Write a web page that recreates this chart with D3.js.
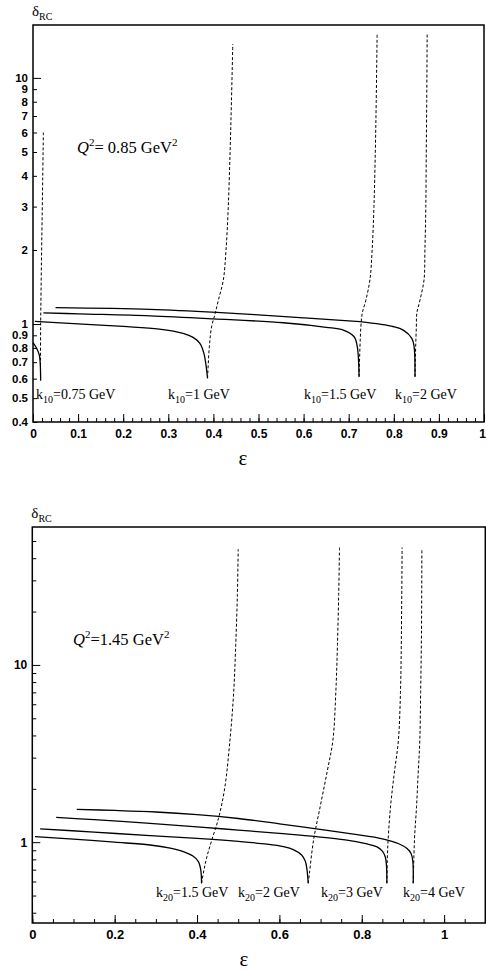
<!DOCTYPE html>
<html>
<head>
<meta charset="utf-8">
<script src="https://cdn.jsdelivr.net/npm/d3@7"></script>
<style>
  body { margin: 0; background: #fff; }
  svg { display: block; }
</style>
</head>
<body>
<script>
var width = 486;
var height = 972;

// ---- top panel (Q2 = 0.85) : [epsilon, delta]
var top075Solid = [[0, 0.84], [0.008, 0.797], [0.014, 0.748], [0.016, 0.693], [0.017, 0.59]];
var top075Dash  = [[0.0166, 0.59], [0.017, 1.0], [0.0215, 3.85], [0.023, 6.0]];
var top1Solid   = [[0.004, 1.026], [0.1, 1.002], [0.2, 0.978], [0.28, 0.954], [0.333, 0.917], [0.355, 0.883], [0.37, 0.835], [0.379, 0.76], [0.387, 0.602]];
var top1Dash    = [[0.387, 0.602], [0.391, 0.809], [0.396, 0.975], [0.404, 1.105], [0.411, 1.25], [0.422, 1.51], [0.428, 2.0], [0.433, 3.0], [0.437, 5.0], [0.44, 8.0], [0.443, 13.7]];
var top15Solid  = [[0.023, 1.111], [0.1, 1.1], [0.259, 1.08], [0.4, 1.05], [0.555, 1.012], [0.65, 0.97], [0.688, 0.945], [0.712, 0.888], [0.719, 0.809], [0.723, 0.611]];
var top15Dash   = [[0.723, 0.611], [0.725, 0.809], [0.727, 0.975], [0.73, 1.105], [0.738, 1.25], [0.747, 1.51], [0.752, 2.0], [0.756, 3.0], [0.759, 5.0], [0.761, 8.0], [0.763, 15.0]];
var top2Solid   = [[0.05, 1.165], [0.259, 1.147], [0.407, 1.115], [0.6, 1.06], [0.7, 1.031], [0.725, 1.022], [0.8, 0.975], [0.821, 0.945], [0.84, 0.875], [0.845, 0.809], [0.847, 0.611]];
var top2Dash    = [[0.847, 0.611], [0.8485, 0.809], [0.85, 0.975], [0.851, 1.105], [0.858, 1.25], [0.867, 1.51], [0.869, 2.0], [0.871, 3.0], [0.872, 5.0], [0.873, 8.0], [0.874, 15.3]];

// ---- bottom panel (Q2 = 1.45)
var bot15Solid = [[0.0066, 1.074], [0.1, 1.04], [0.2, 1.0], [0.286, 0.964], [0.335, 0.925], [0.37, 0.88], [0.39, 0.835], [0.403, 0.78], [0.409, 0.7], [0.411, 0.586]];
var bot15Dash  = [[0.411, 0.586], [0.417, 0.7], [0.424, 0.828], [0.436, 1.03], [0.452, 1.36], [0.467, 2.0], [0.48, 3.77], [0.489, 7], [0.494, 13], [0.498, 25], [0.5, 45]];
var bot2Solid  = [[0.019, 1.19], [0.15, 1.14], [0.286, 1.088], [0.4, 1.05], [0.5, 1.01], [0.57, 0.975], [0.61, 0.943], [0.635, 0.905], [0.654, 0.847], [0.663, 0.78], [0.667, 0.7], [0.67, 0.586]];
var bot2Dash   = [[0.67, 0.586], [0.673, 0.668], [0.683, 1.03], [0.699, 1.585], [0.716, 2.5], [0.73, 3.77], [0.737, 7], [0.741, 13], [0.744, 25], [0.746, 46]];
var bot3Solid  = [[0.058, 1.38], [0.15, 1.34], [0.286, 1.278], [0.4, 1.22], [0.5, 1.17], [0.6, 1.12], [0.69, 1.074], [0.76, 1.03], [0.81, 0.98], [0.836, 0.943], [0.85, 0.89], [0.857, 0.828], [0.86, 0.74], [0.861, 0.586]];
var bot3Dash   = [[0.861, 0.586], [0.862, 0.8], [0.864, 1.03], [0.87, 1.6], [0.879, 2.45], [0.889, 3.77], [0.894, 7], [0.896, 13], [0.898, 46]];
var bot4Solid  = [[0.108, 1.53], [0.2, 1.51], [0.3, 1.48], [0.4, 1.43], [0.5, 1.36], [0.6, 1.27], [0.69, 1.19], [0.78, 1.11], [0.85, 1.045], [0.89, 0.98], [0.91, 0.92], [0.92, 0.86], [0.924, 0.78], [0.925, 0.7], [0.925, 0.586]];
var bot4Dash   = [[0.925, 0.586], [0.928, 1.03], [0.933, 1.585], [0.937, 2.45], [0.941, 3.77], [0.943, 7], [0.945, 15], [0.946, 45]];

// ticks
var topXMajor = [0, 0.1, 0.2, 0.3, 0.4, 0.5, 0.6, 0.7, 0.8, 0.9, 1];
var topYLabels = [0.4, 0.5, 0.6, 0.7, 0.8, 0.9, 1, 2, 3, 4, 5, 6, 7, 8, 9, 10];
var botXMajor = [0, 0.2, 0.4, 0.6, 0.8, 1];
var botYMinor = [0.4, 0.5, 0.6, 0.7, 0.8, 0.9, 2, 3, 4, 5, 6, 7, 8, 9, 20, 30, 40, 50];
var botYLabels = [1, 10];

var svg = d3.select('body').append('svg')
    .attr('width', width)
    .attr('height', height)

var sansB = 'Liberation Sans, Arial, sans-serif'
var serif = 'Liberation Serif, Times New Roman, serif'

function panel(opt){
    var g = svg.append('g')
    var x = d3.scaleLinear().domain(opt.xDomain).range([opt.left, opt.right])
    var y = d3.scaleLog().domain(opt.yDomain).range([opt.bottom, opt.top])

    // minor x ticks
    g.append('g')
        .attr('transform', 'translate(0,' + opt.bottom + ')')
        .call(d3.axisBottom(x).tickValues(opt.xMinor).tickSize(-4).tickFormat(''))
        .call(a => a.select('.domain').remove())
    // major x ticks
    g.append('g')
        .attr('transform', 'translate(0,' + opt.bottom + ')')
        .call(d3.axisBottom(x).tickValues(opt.xMajor).tickSize(-8).tickPadding(7)
            .tickFormat(d => d3.format('')(+d.toFixed(2))))
        .call(a => a.select('.domain').remove())
        .call(a => a.selectAll('text').attr('font-family', sansB).attr('font-weight', 'bold')
            .attr('font-size', opt.xFont))
        // keep the last label inside the picture
        .call(a => a.selectAll('text').filter(d => x(d) > width - 5).attr('dx', -2))

    // y ticks
    g.append('g')
        .attr('transform', 'translate(' + opt.left + ',0)')
        .call(d3.axisLeft(y).tickValues(opt.yMinor).tickSize(-4).tickPadding(5)
            .tickFormat(d => opt.yMinorLabel ? d : ''))
        .call(a => a.select('.domain').remove())
        .call(a => a.selectAll('text').attr('font-family', sansB).attr('font-weight', 'bold').attr('font-size', opt.yFont))
    g.append('g')
        .attr('transform', 'translate(' + opt.left + ',0)')
        .call(d3.axisLeft(y).tickValues(opt.yMajor).tickSize(-8).tickPadding(5).tickFormat(d => d))
        .call(a => a.select('.domain').remove())
        .call(a => a.selectAll('text').attr('font-family', sansB).attr('font-weight', 'bold').attr('font-size', opt.yFont))

    g.selectAll('.tick line').attr('stroke', '#000').attr('stroke-width', 1)

    // frame
    g.append('rect')
        .attr('x', opt.left).attr('y', opt.top)
        .attr('width', opt.right - opt.left).attr('height', opt.bottom - opt.top)
        .attr('fill', 'none').attr('stroke', '#000').attr('stroke-width', 1.5)

    var line = d3.line().x(d => x(d[0])).y(d => y(d[1])).curve(d3.curveCatmullRom.alpha(0.5))
    opt.solid.forEach(c => {
        g.append('path').attr('d', line(c)).attr('fill', 'none')
            .attr('stroke', '#000').attr('stroke-width', 1.3)
    })
    opt.dashed.forEach(c => {
        g.append('path').attr('d', line(c)).attr('fill', 'none')
            .attr('stroke', '#000').attr('stroke-width', 1).attr('stroke-dasharray', '3,2')
    })

    // y title
    var yt = g.append('text').attr('x', opt.left - 1).attr('y', opt.top - 9)
        .attr('font-family', serif).attr('font-size', 15)
    yt.append('tspan').text('δ')
    yt.append('tspan').attr('font-size', 10).attr('dy', 4).text('RC')

    // x title
    g.append('text').attr('x', opt.xTitleX).attr('y', opt.bottom + 43)
        .attr('text-anchor', 'middle')
        .attr('font-family', serif).attr('font-size', 21).text('ε')

    // Q2 label
    var q = g.append('text').attr('x', opt.qx).attr('y', opt.qy)
        .attr('font-family', serif).attr('font-size', 16.5)
    q.append('tspan').attr('font-style', 'italic').text('Q')
    q.append('tspan').attr('font-size', 11).attr('dy', -7).text('2')
    q.append('tspan').attr('dy', 7).text(opt.qText)
    q.append('tspan').attr('font-size', 11).attr('dy', -7).text('2')

    // k labels
    opt.kLabels.forEach(k => {
        var t = g.append('text').attr('x', k.x).attr('y', opt.kY)
            .attr('font-family', serif).attr('font-size', 14)
        t.append('tspan').text('k')
        t.append('tspan').attr('font-size', 10).attr('dy', 4).text(opt.kSub)
        t.append('tspan').attr('dy', -4).text('=' + k.v + ' GeV')
    })
}

panel({
    left: 33, right: 484, top: 25, bottom: 422,
    xDomain: [0, 1], yDomain: [0.4, 16.4],
    xMajor: topXMajor, xMinor: d3.range(0, 1.001, 0.02), xFont: 12, yFont: 11.5,
    yMajor: [1, 10], yMinor: topYLabels.filter(d => d != 1 && d != 10), yMinorLabel: true,
    solid: [top075Solid, top1Solid, top15Solid, top2Solid],
    dashed: [top075Dash, top1Dash, top15Dash, top2Dash],
    xTitleX: 243, qx: 77, qy: 153, qText: '= 0.85 GeV',
    kY: 399, kSub: '10',
    kLabels: [{x: 36, v: '0.75'}, {x: 168, v: '1'}, {x: 304, v: '1.5'}, {x: 395, v: '2'}]
})

panel({
    left: 32.3, right: 485.3, top: 527, bottom: 923,
    xDomain: [0, 1.1], yDomain: [0.35, 60],
    xMajor: botXMajor, xMinor: d3.range(0, 1.1001, 0.05), xFont: 13, yFont: 12,
    yMajor: botYLabels, yMinor: botYMinor, yMinorLabel: false,
    solid: [bot15Solid, bot2Solid, bot3Solid, bot4Solid],
    dashed: [bot15Dash, bot2Dash, bot3Dash, bot4Dash],
    xTitleX: 244, qx: 73, qy: 645, qText: '=1.45 GeV',
    kY: 897, kSub: '20',
    kLabels: [{x: 156, v: '1.5'}, {x: 238, v: '2'}, {x: 321, v: '3'}, {x: 403, v: '4'}]
})
</script>
</body>
</html>
